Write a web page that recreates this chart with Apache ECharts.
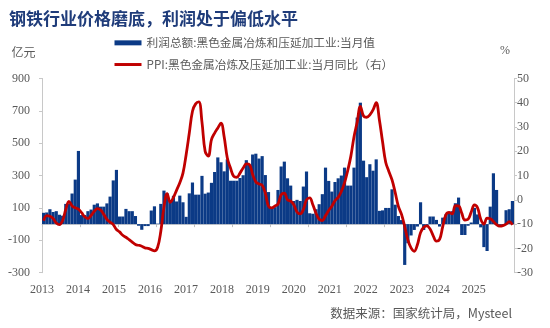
<!DOCTYPE html>
<html><head><meta charset="utf-8">
<script src="https://cdn.jsdelivr.net/npm/echarts@6/dist/echarts.min.js"></script>
<style>html,body{margin:0;padding:0;background:#fff}#c{width:550px;height:328px}</style>
</head><body><div id="c"></div>
<script>
const years = [2013,2014,2015,2016,2017,2018,2019,2020,2021,2022,2023,2024,2025];
const yearLabels = ['2013','2014','2015','2016','2017','2018','2019','2020','2021','2022','2023','2024','2025'];
const leftTicks = [-300,-100,100,300,500,700,900];
// 利润总额:黑色金属冶炼和压延加工业:当月值 (亿元), Jan 2013 - May 2025
const profit = [
  70, 72, 92, 75, 80, 58, 52, 125, 125, 189, 275, 452,
  56, 56, 80, 90, 120, 128, 108, 108, 128, 170, 270, 335,
  47, 47, 94, 80, 80, 50, -10, -35, -12, -12, 84, 110,
  3, 125, 207, 190, 145, 175, 140, 176, 135, 45, 190, 257,
  182, 182, 298, 188, 195, 255, 322, 412, 382, 326, 400, 268,
  268, 268, 285, 302, 395, 365, 430, 435, 405, 420, 303, 198,
  105, 105, 211, 356, 386, 283, 238, 143, 150, 143, 232, 325,
  67, 64, 92, 123, 185, 349, 267, 201, 260, 283, 300, 349,
  238, 238, 349, 658, 750, 392, 290, 370, 330, 400, 82, 85,
  100, 100, 215, 120, 50, 25, -252, -118, -70, -36, -15, 135,
  -36, -15, 47, 47, 26, -15, 40, 60, 70, 80, 129, 164,
  -67, -67, -10, 10, 100, 60, -20, -142, -166, 108, 314, 211,
  -5, -5, 86, 92, 143
];
// PPI:黑色金属冶炼及压延加工业:当月同比 (%)
const ppi = [
  -8.6, -6.5, -6.8, -7.7, -9.5, -10.2, -8.5, -4, -0.6, -2.5, -3.3, -3.8,
  -5.3, -7, -7.7, -6.4, -4.7, -3.6, -4.2, -6, -8, -9.2, -10.2, -12.2,
  -13.2, -14.6, -15.4, -16.4, -17.4, -18.4, -18.7, -19.1, -19.8, -20, -20.5, -21,
  -19.5, -13, -3, 2.5, -1, 1, 4, 7, 11, 18.6, 27.5, 36.5,
  39.5, 40.3, 32, 20, 18, 24.8, 27.5, 29.6, 31.6, 26, 17.2, 13.1,
  9.7, 9.3, 11, 13.1, 14.8, 14.5, 10.4, 7.4, 6.5, 6, 2.8, -2.6,
  -3.3, -2.6, -1.7, 2.1, 2.8, 0, -0.5, -2, -5, -5.8, -4, 0,
  0.8, -2, -5.5, -8, -8.5, -6.5, -4.4, -2.6, -0.3, 1, 3.5, 7,
  12, 18, 26, 32, 38.5, 34.5, 34, 35, 37, 40, 33, 24,
  15.5, 11.7, 8.2, 3, -2.7, -6, -11, -16.5, -19.8, -21.2, -18.5, -13.5,
  -11.3, -10.7, -12, -14.8, -17, -16.3, -11, -6.2, -5.2, -5.8, -2.4, -2.5,
  -5.5, -8.3, -8, -5, -2.1, -3.3, -8, -10, -7.5, -7.8, -8.9, -10.2,
  -10.8, -10.6, -10, -9, -10.3
];
const months = [];
years.forEach(y => { for (let m = 1; m <= 12; m++) months.push(y + '-' + (m < 10 ? '0' : '') + m); });
months.length = profit.length;

const nameBar = '利润总额:黑色金属冶炼和压延加工业:当月值';
const nameLine = 'PPI:黑色金属冶炼及压延加工业:当月同比（右）';
const gray = '#595959';
const serif = 'Liberation Serif';
const cjk = 'Noto Sans CJK SC';

const chart = echarts.init(document.getElementById('c'), null, {renderer: 'canvas'});
chart.setOption({
  animation: false,
  backgroundColor: '#fff',
  title: {
    text: '钢铁行业价格磨底，利润处于偏低水平',
    left: 4, top: 5,
    textStyle: {fontFamily: cjk, fontWeight: 'bold', fontSize: 17, color: '#1f3c7a'}
  },
  legend: {
    orient: 'vertical', left: 108, top: 32, itemGap: 10,
    itemWidth: 27, itemHeight: 5,
    textStyle: {fontFamily: cjk, fontSize: 11.7, color: gray},
    data: [
      {name: nameBar, icon: 'rect'},
      {name: nameLine, itemStyle: {opacity: 0}, lineStyle: {width: 3, color: '#c00000'}}
    ]
  },
  grid: {left: 42, right: 36, top: 78.4, bottom: 55.3, containLabel: false},
  xAxis: [{
    type: 'category', data: months, boundaryGap: true,
    axisLine: {onZero: true, onZeroAxisIndex: 0, lineStyle: {color: '#d0d0d0', width: 1}},
    axisTick: {show: true, interval: 11, length: 3, lineStyle: {color: '#bfbfbf'}},
    axisLabel: {show: false}, splitLine: {show: false}
  }, {
    type: 'value', position: 'bottom', min: 0, max: 13.12, interval: 1,
    axisLine: {show: false, onZero: false}, axisTick: {show: false}, splitLine: {show: false},
    axisLabel: {
      show: true, margin: 11, fontFamily: serif, fontSize: 12, color: gray,
      showMaxLabel: false,
      formatter: v => (Number.isInteger(v) && v >= 0 && v < yearLabels.length) ? yearLabels[v] : ''
    }
  }],
  yAxis: [{
    type: 'value', min: leftTicks[0], max: leftTicks[leftTicks.length - 1], interval: 200,
    name: '亿元', nameLocation: 'end', nameGap: 20,
    nameTextStyle: {fontFamily: cjk, fontSize: 12, color: gray, padding: [0, 37, 0, 0]},
    axisLine: {show: true, lineStyle: {color: '#c8c8c8'}},
    axisTick: {show: true, length: 3, lineStyle: {color: '#c8c8c8'}},
    axisLabel: {margin: 12, fontFamily: serif, fontSize: 12, color: gray},
    splitLine: {show: false}
  }, {
    type: 'value', min: -30, max: 50, interval: 10, position: 'right',
    name: '%', nameLocation: 'end', nameGap: 22,
    nameTextStyle: {fontFamily: serif, fontSize: 12, color: gray, padding: [0, 18, 0, 0]},
    axisLine: {show: true, lineStyle: {color: '#c8c8c8'}},
    axisTick: {show: true, length: 3, lineStyle: {color: '#c8c8c8'}},
    axisLabel: {margin: 3, fontFamily: serif, fontSize: 12, color: gray},
    splitLine: {show: false}
  }],
  series: [{
    name: nameBar, type: 'bar', xAxisIndex: 0, yAxisIndex: 0, data: profit,
    barCategoryGap: '0%', itemStyle: {color: '#0b3a86'}
  }, {
    name: nameLine, type: 'line', xAxisIndex: 0, yAxisIndex: 1, data: ppi,
    smooth: 0.4, symbol: 'none', showSymbol: false,
    lineStyle: {color: '#c00000', width: 2.8}, itemStyle: {color: '#c00000'}
  }],
  graphic: [{
    type: 'text', right: 38, top: 307,
    style: {text: '数据来源：国家统计局，Mysteel', font: '12.5px "Noto Sans CJK SC"', fill: gray}
  }]
});
</script>
</body></html>
